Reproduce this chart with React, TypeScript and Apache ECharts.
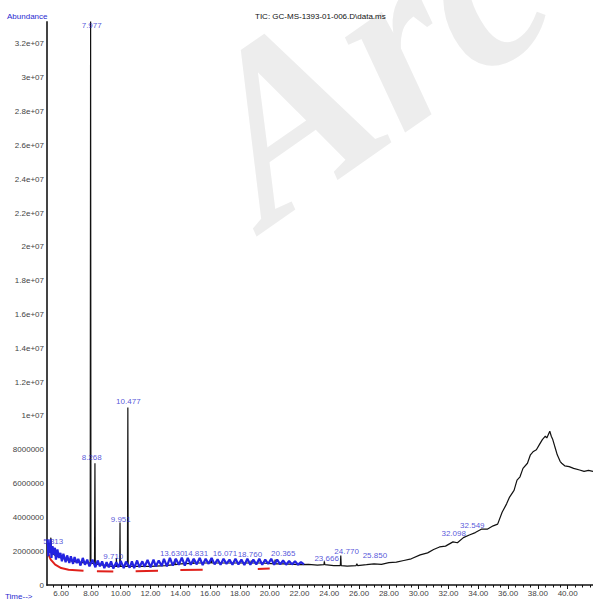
import React, { useEffect, useRef } from "react";
import * as echarts from "echarts";

// ---- data ----
const ticTimes = [
  5.05, 5.13, 5.22, 5.31, 5.36, 5.5, 5.7, 6.0, 6.4, 6.8, 7.2, 7.6, 7.95, 7.977, 8.0,
  8.24, 8.268, 8.29, 8.6, 9.0, 9.4, 9.69, 9.71, 9.73, 9.93, 9.951, 9.97, 10.45, 10.477, 10.5,
  11.0, 12.0, 13.0, 13.6, 13.63, 13.66, 14.0, 14.8, 14.83, 14.86, 15.0, 16.04, 16.07, 16.1,
  17.0, 18.0, 18.73, 18.76, 18.79, 19.5, 20.33, 20.365, 20.4, 21.0,
  22.0, 22.6, 23.2, 23.64, 23.666, 23.7, 24.3, 24.74, 24.77, 24.8, 25.2, 25.8, 25.85, 25.9,
  26.5, 27.0, 27.5, 28.0, 28.5, 29.0, 29.5, 30.1, 30.6, 31.0, 31.4, 31.8, 32.3, 32.6, 33.0,
  33.4, 33.8, 34.2, 34.6, 35.0, 35.3, 35.6, 35.9, 36.1, 36.4, 36.6, 36.8, 37.0, 37.3, 37.5,
  37.7, 37.9, 38.1, 38.3, 38.5, 38.6, 38.8, 38.9, 39.0, 39.2, 39.3, 39.5, 39.6, 39.8, 40.1,
  40.4, 40.8, 41.1, 41.4, 41.7,
];
const ticValues = [
  2.4e6, 2.3e6, 2.0e6, 2.8e6, 1.9e6, 1.8e6, 1.7e6, 1.6e6, 1.5e6, 1.4e6, 1.35e6, 1.3e6, 1.3e6, 3.4e7, 1.3e6,
  1.25e6, 7.2e6, 1.25e6, 1.2e6, 1.15e6, 1.1e6, 1.1e6, 1.6e6, 1.1e6, 1.1e6, 3.7e6, 1.1e6, 1.1e6, 1.05e7, 1.1e6,
  1.1e6, 1.1e6, 1.15e6, 1.2e6, 1.5e6, 1.2e6, 1.25e6, 1.28e6, 1.5e6, 1.28e6, 1.3e6, 1.3e6, 1.55e6, 1.3e6,
  1.3e6, 1.3e6, 1.3e6, 1.45e6, 1.3e6, 1.3e6, 1.25e6, 1.5e6, 1.25e6, 1.25e6,
  1.2e6, 1.22e6, 1.18e6, 1.2e6, 1.4e6, 1.2e6, 1.15e6, 1.15e6, 1.75e6, 1.15e6, 1.12e6, 1.15e6, 1.25e6, 1.15e6,
  1.2e6, 1.25e6, 1.22e6, 1.32e6, 1.35e6, 1.45e6, 1.55e6, 1.78e6, 1.9e6, 2.1e6, 2.25e6, 2.3e6, 2.55e6, 2.5e6, 2.8e6,
  2.96e6, 3.1e6, 3.3e6, 3.3e6, 3.5e6, 3.6e6, 4.3e6, 4.8e6, 5.2e6, 5.6e6, 6.2e6, 6.4e6, 6.9e6, 7.2e6, 7.7e6,
  7.9e6, 8.0e6, 8.3e6, 8.6e6, 8.8e6, 8.7e6, 9.1e6, 8.8e6, 8.6e6, 8.0e6, 7.7e6, 7.3e6, 7.2e6, 7.05e6, 7.0e6,
  6.9e6, 6.8e6, 6.72e6, 6.78e6, 6.72e6,
];

// dense blue integration marks over the early baseline
const blueTimes = [
  5.1, 5.14, 5.19, 5.24, 5.28, 5.35, 5.42, 5.5, 5.58, 5.65, 5.75, 5.85, 5.95, 6.05, 6.15, 6.3, 6.4, 6.55, 6.65, 6.8, 6.9, 7.05, 7.15,
  7.3, 7.45, 7.6, 7.75, 7.9, 8.1, 8.3, 8.45, 8.6, 8.75, 8.9, 9.05, 9.2, 9.35, 9.5, 9.7, 9.85, 10.0, 10.2, 10.35, 10.6, 10.75,
  10.9, 11.1, 11.25, 11.45, 11.6, 11.8, 12.0, 12.2, 12.35, 12.55, 12.75, 12.9, 13.1, 13.3, 13.5, 13.7, 13.9, 14.1, 14.3, 14.5,
  14.7, 14.9, 15.1, 15.3, 15.5, 15.7, 15.9, 16.1, 16.3, 16.5, 16.7, 16.9, 17.1, 17.3, 17.5, 17.7, 17.9, 18.1, 18.3, 18.5,
  18.7, 18.9, 19.1, 19.3, 19.5, 19.7, 19.9, 20.1, 20.3, 20.5, 20.7, 20.9, 21.1, 21.3, 21.5, 21.7, 21.9, 22.1, 22.3,
];
const blueValues = [
  2.7e6, 1.7e6, 2.5e6, 1.9e6, 2.7e6, 1.6e6, 2.3e6, 1.8e6, 2.2e6, 1.5e6, 2.1e6, 1.6e6, 1.9e6, 1.4e6, 1.85e6, 1.35e6, 1.75e6, 1.3e6, 1.7e6, 1.25e6, 1.65e6, 1.3e6, 1.55e6,
  1.15e6, 1.6e6, 1.2e6, 1.5e6, 1.1e6, 1.5e6, 1.05e6, 1.45e6, 1.1e6, 1.4e6, 1.0e6, 1.35e6, 1.05e6, 1.4e6, 0.98e6, 1.35e6, 1.05e6, 1.42e6, 1.0e6, 1.38e6, 1.02e6, 1.4e6,
  1.0e6, 1.45e6, 1.05e6, 1.4e6, 1.08e6, 1.48e6, 1.05e6, 1.5e6, 1.1e6, 1.45e6, 1.12e6, 1.55e6, 1.1e6, 1.6e6, 1.15e6, 1.55e6, 1.2e6, 1.62e6, 1.15e6, 1.6e6,
  1.2e6, 1.55e6, 1.22e6, 1.6e6, 1.18e6, 1.55e6, 1.25e6, 1.6e6, 1.22e6, 1.52e6, 1.2e6, 1.55e6, 1.25e6, 1.5e6, 1.2e6, 1.55e6, 1.22e6, 1.5e6, 1.18e6, 1.55e6,
  1.2e6, 1.5e6, 1.22e6, 1.55e6, 1.2e6, 1.5e6, 1.25e6, 1.55e6, 1.2e6, 1.5e6, 1.22e6, 1.45e6, 1.2e6, 1.42e6, 1.22e6, 1.4e6, 1.2e6, 1.35e6, 1.22e6,
];

// red baseline segments (null = gap)
const redTimes = [5.1, 5.3, 5.6, 6.0, 6.5, 7.5, 7.6, 8.4, 9.5, 9.6, 11.0, 12.5, 12.6, 14.0, 15.5, 15.6, 17.5, 18.0, 19.2, 20.0];
const redValues = [1.9e6, 1.5e6, 1.2e6, 1.0e6, 0.9e6, 0.85e6, null, 0.82e6, 0.8e6, null, 0.82e6, 0.85e6, null, 0.88e6, 0.9e6, null, 0.92e6, null, 0.95e6, 0.98e6];

// peak retention-time labels (text and where they sit)
const peakLabels = ["7.977", "8.268", "10.477", "9.951", "9.710", "5.313", "13.630", "14.831", "16.071", "18.760", "20.365", "23.666", "24.770", "25.850", "32.098", "32.549"];
const labelTimes = [8.05, 8.05, 10.51, 10.0, 9.5, 5.47, 13.45, 15.05, 17.0, 18.67, 20.91, 23.82, 25.16, 27.06, 32.35, 33.6];
const labelValues = [3.31e7, 7.56e6, 1.085e7, 3.89e6, 1.67e6, 2.56e6, 1.88e6, 1.88e6, 1.88e6, 1.8e6, 1.88e6, 1.58e6, 1.97e6, 1.72e6, 3.02e6, 3.52e6];

const yTickValues = [0, 2e6, 4e6, 6e6, 8e6, 1e7, 1.2e7, 1.4e7, 1.6e7, 1.8e7, 2e7, 2.2e7, 2.4e7, 2.6e7, 2.8e7, 3e7, 3.2e7];
const xLabelValues = [6, 8, 10, 12, 14, 16, 18, 20, 22, 24, 26, 28, 30, 32, 34, 36, 38, 40];
const xMinorValues = [
  5.5, 6.5, 7, 7.5, 8.5, 9, 9.5, 10.5, 11, 11.5, 12.5, 13, 13.5, 14.5, 15, 15.5, 16.5, 17, 17.5,
  18.5, 19, 19.5, 20.5, 21, 21.5, 22.5, 23, 23.5, 24.5, 25, 25.5, 26.5, 27, 27.5, 28.5, 29, 29.5,
  30.5, 31, 31.5, 32.5, 33, 33.5, 34.5, 35, 35.5, 36.5, 37, 37.5, 38.5, 39, 39.5, 40.5, 41, 41.5,
];

const FONT = '"Liberation Sans", Arial, sans-serif';

function fmtY(v: number): string {
  if (v >= 1e7) return String(Math.round((v / 1e7) * 10) / 10) + "e+07";
  return String(v);
}

export default function App() {
  const ref = useRef<HTMLDivElement>(null);
  useEffect(() => {
    if (!ref.current) return;
    const chart = echarts.init(ref.current, undefined, { renderer: "svg" });
    const zip = (t: number[], v: (number | null)[]) => t.map((x, i) => [x, v[i]]);
    chart.setOption({
      animation: false,
      backgroundColor: "#ffffff",
      grid: { left: 47, right: 0, top: 22, bottom: 14, containLabel: false },
      xAxis: [
        {
          type: "value",
          min: 5.05,
          max: 41.7,
          axisLine: { show: true, lineStyle: { color: "#111", width: 1.5 } },
          axisTick: { show: true, customValues: xLabelValues, length: 4, lineStyle: { color: "#111" } },
          axisLabel: {
            customValues: xLabelValues,
            formatter: (v: number) => v.toFixed(2),
            fontSize: 8,
            fontFamily: FONT,
            color: "#444",
            margin: 4,
          },
          splitLine: { show: false },
        },
        {
          type: "value",
          min: 5.05,
          max: 41.7,
          position: "bottom",
          axisLine: { show: false },
          axisTick: { show: true, customValues: xMinorValues, length: 2.5, lineStyle: { color: "#111" } },
          axisLabel: { show: false },
          splitLine: { show: false },
        },
      ],
      yAxis: {
        type: "value",
        min: 0,
        max: 3.33e7,
        axisLine: { show: true, lineStyle: { color: "#444", width: 2 } },
        axisTick: { show: false },
        axisLabel: {
          customValues: yTickValues,
          formatter: fmtY,
          fontSize: 8,
          fontFamily: FONT,
          color: "#444",
          margin: 3,
        },
        splitLine: { show: false },
      },
      graphic: [
        {
          type: "text",
          z: -10,
          silent: true,
          x: 290,
          y: 262,
          rotation: 0.61,
          style: {
            text: "Arc",
            font: 'italic bold 245px "Liberation Serif", serif',
            fill: "#ededed",
            verticalAlign: "bottom",
            align: "left",
          },
        },
        {
          type: "text",
          x: 7,
          y: 16,
          style: { text: "Abundance", font: "8px " + FONT, fill: "#2a2ad0", verticalAlign: "middle" },
        },
        {
          type: "text",
          x: 255,
          y: 16,
          style: { text: "TIC: GC-MS-1393-01-006.D\\data.ms", font: "8px " + FONT, fill: "#111", verticalAlign: "middle" },
        },
        {
          type: "text",
          x: 5,
          y: 596,
          style: { text: "Time-->", font: "8px " + FONT, fill: "#2a2ad0", verticalAlign: "middle" },
        },
      ],
      series: [
        {
          type: "line",
          name: "baseline",
          data: zip(redTimes, redValues),
          symbol: "none",
          connectNulls: false,
          lineStyle: { color: "#e0201b", width: 2 },
          z: 2,
        },
        {
          type: "line",
          name: "TIC",
          data: zip(ticTimes, ticValues),
          symbol: "none",
          lineStyle: { color: "#111111", width: 1.2 },
          z: 3,
        },
        {
          type: "line",
          name: "marks",
          data: zip(blueTimes, blueValues),
          symbol: "none",
          lineStyle: { color: "#2323e0", width: 2.2 },
          z: 4,
        },
        {
          type: "scatter",
          name: "labels",
          data: labelTimes.map((t, i) => [t, labelValues[i], peakLabels[i]]),
          symbolSize: 0,
          z: 5,
          label: {
            show: true,
            position: "inside",
            formatter: (p: any) => p.value[2],
            fontSize: 8,
            fontFamily: FONT,
            color: "#2a2ad0",
          },
        },
      ],
    });
    return () => chart.dispose();
  }, []);
  return <div ref={ref} style={{ width: 593, height: 599, position: "absolute", left: 0, top: 0 }} />;
}
